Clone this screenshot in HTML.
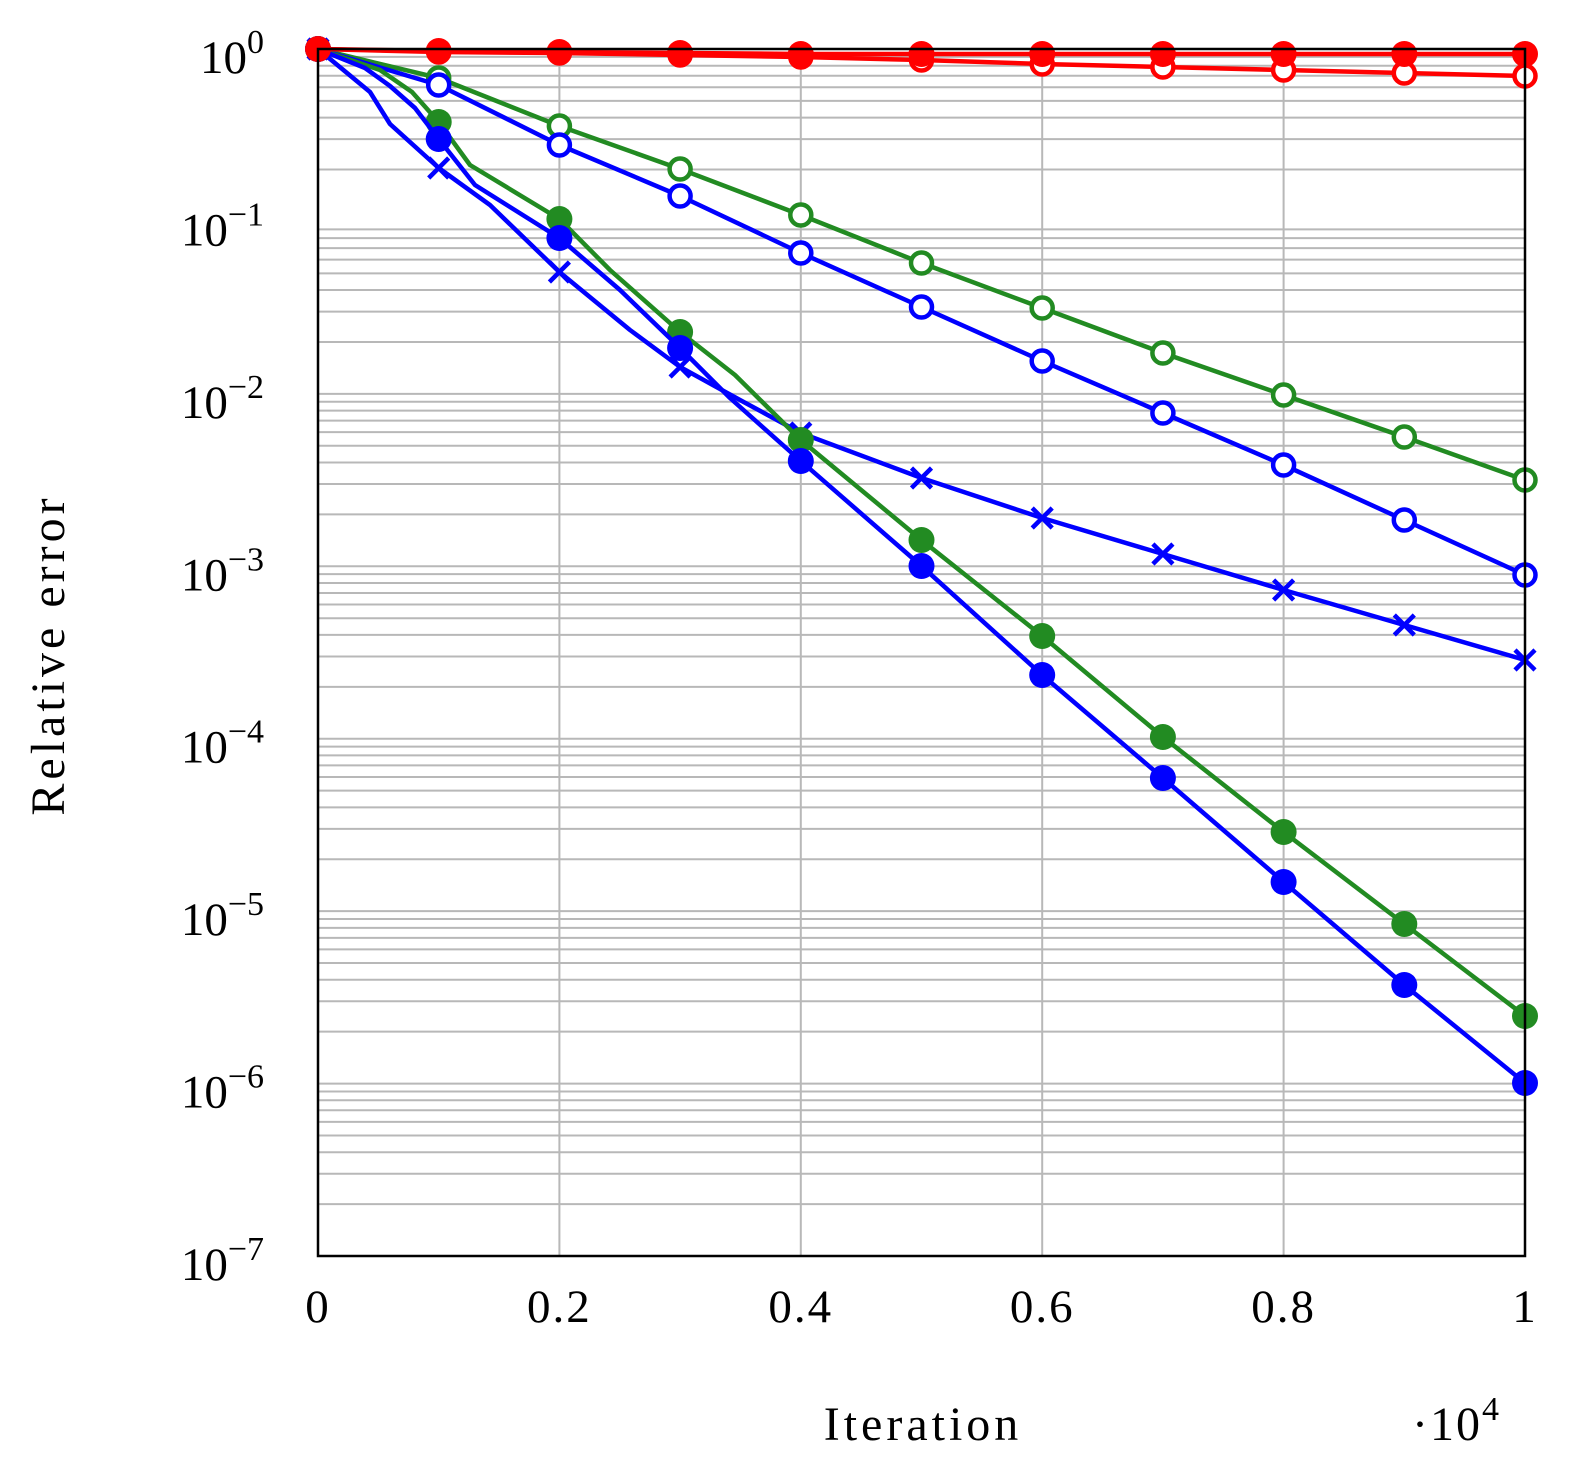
<!DOCTYPE html>
<html><head><meta charset="utf-8"><style>body{margin:0;background:#fff}</style></head>
<body>
<svg width="1574" height="1472" viewBox="0 0 1574 1472" xmlns="http://www.w3.org/2000/svg" font-family="Liberation Serif, serif">
<rect width="1574" height="1472" fill="#fff"/>
<g id="grid" stroke="#b8b8b8" stroke-width="2"></g>
<g id="series"></g>
<rect x="318" y="49" width="1207" height="1207" fill="none" stroke="#000" stroke-width="2.5"/>
<g id="labels" font-size="47" fill="#000"></g>
<text x="923" y="1440" font-size="48" letter-spacing="4" text-anchor="middle">Iteration</text>
<text x="1412" y="1440" font-size="48" letter-spacing="2">·10<tspan dy="-20" font-size="34">4</tspan></text>
<text transform="translate(64,655) rotate(-90)" font-size="48" letter-spacing="4" text-anchor="middle">Relative error</text>
<script>
const ns="http://www.w3.org/2000/svg";
const X0=318,X1=1525,Y0=49,D=172.43;
function el(t,a,p){const e=document.createElementNS(ns,t);for(const k in a)e.setAttribute(k,a[k]);p.appendChild(e);return e;}
const g=document.getElementById('grid');
for(let d=0;d<7;d++){for(let m=1;m<=9;m++){const y=Y0+(d+1-Math.log10(m))*D; if(m==1&&d==0)continue; el('line',{x1:X0,x2:X1,y1:y,y2:y},g);} }
for(let i=1;i<5;i++){const x=X0+i*(X1-X0)/5;el('line',{x1:x,x2:x,y1:Y0,y2:1256},g);}
const L=document.getElementById('labels');
for(let d=0;d<=7;d++){const t=el('text',{x:264,y:Y0+d*D+24,'text-anchor':'end'},L);t.textContent='10';const s=el('tspan',{dy:-20,'font-size':34},t);s.textContent=d==0?'0':'\u2212'+d;}
const xl=['0','0.2','0.4','0.6','0.8','1'];
xl.forEach((s,i)=>{const t=el('text',{x:X0+i*(X1-X0)/5,y:1322,'text-anchor':'middle','letter-spacing':2},L);t.textContent=s;});
const S=document.getElementById('series');
const step=(X1-X0)/10;
function line(pts,col){el('polyline',{points:pts.map(p=>p.join(',')).join(' '),fill:'none',stroke:col,'stroke-width':4.5,'stroke-linejoin':'round'},S);}
function ser(ys,col,mk,extra){let pts=ys.map((y,i)=>[X0+i*step,y]);if(extra){pts=pts.concat(extra).sort((a,b)=>a[0]-b[0]);}line(pts,col);
ys.forEach((y,i)=>{const x=X0+i*step;
if(mk=='f')el('circle',{cx:x,cy:y,r:13,fill:col},S);
else if(mk=='o')el('circle',{cx:x,cy:y,r:10.5,fill:'#fff',stroke:col,'stroke-width':4.5},S);
else{el('path',{d:`M${x-10},${y-10}L${x+10},${y+10}M${x-10},${y+10}L${x+10},${y-10}`,stroke:col,'stroke-width':4.5},S);}});}
ser([49,52,53,55,57,60,64,67,70,73,76],'#f00','o');
ser([49,78,126,169,215,263,308,353,395,437,480],'#228b22','o');
ser([49,85,145,196,253,307,361,413,465,520,575],'#00f','o');
ser([49,168,272,367,433,478,518,554,590,625,660],'#00f','x',[[370,92],[390,124],[490,205],[630,330],[740,400]]);
ser([49,122,219,332,440,540,636,737,832,924,1016],'#228b22','f',[[380,70],[412,92],[470,165],[610,270],[735,375]]);
ser([49,139,238,348,461,566,675,778,882,985,1083],'#00f','f',[[365,68],[390,86],[415,108],[475,185],[620,290],[730,398]]);
ser([49,51,52,53,54,54,54,54,54,54,54],'#f00','f');
</script>
</svg>
</body></html>
